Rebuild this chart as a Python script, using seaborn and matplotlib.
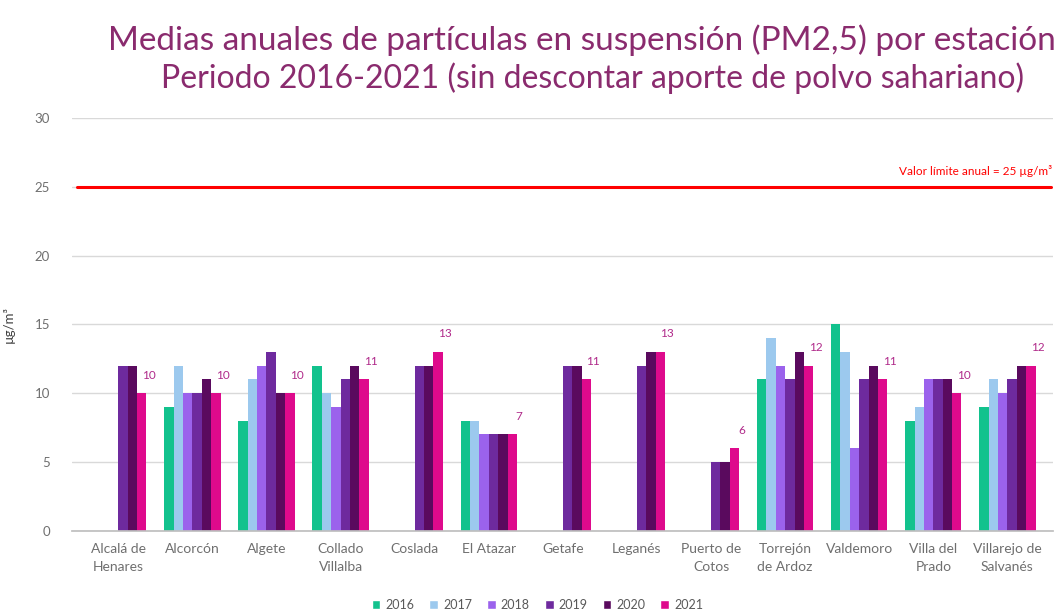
import numpy as np
import pandas as pd
import matplotlib
matplotlib.use("Agg")
import matplotlib.pyplot as plt
import seaborn as sns
from matplotlib.patches import Patch

stations = ["Alcalá de\nHenares", "Alcorcón", "Algete", "Collado\nVillalba", "Coslada",
            "El Atazar", "Getafe", "Leganés", "Puerto de\nCotos", "Torrejón\nde Ardoz",
            "Valdemoro", "Villa del\nPrado", "Villarejo de\nSalvanés"]
years = ["2016", "2017", "2018", "2019", "2020", "2021"]
nan = np.nan
v2016 = [nan, 9, 8, 12, nan, 8, nan, nan, nan, 11, 15, 8, 9]
v2017 = [nan, 12, 11, 10, nan, 8, nan, nan, nan, 14, 13, 9, 11]
v2018 = [nan, 10, 12, 9, nan, 7, nan, nan, nan, 12, 6, 11, 10]
v2019 = [12, 10, 13, 11, 12, 7, 12, 12, 5, 11, 11, 11, 11]
v2020 = [12, 11, 10, 12, 12, 7, 12, 13, 5, 13, 12, 11, 12]
v2021 = [10, 10, 10, 11, 13, 7, 11, 13, 6, 12, 11, 10, 12]
limit_value = 25
colors = ["#12C28D", "#9CC9EE", "#9B62EC", "#6E2A9E", "#5A0A5E", "#DE0A8C"]

series = [v2016, v2017, v2018, v2019, v2020, v2021]
rows = []
for y, vals in zip(years, series):
    for s, v in zip(stations, vals):
        rows.append({"Estación": s, "Año": y, "Valor": v})
df = pd.DataFrame(rows)

sns.set_theme(style="white")
plt.rcParams['font.family'] = ['Lato', 'DejaVu Sans']

fig = plt.figure(figsize=(10.64, 6.15), dpi=100)
ax = fig.add_axes([0.068, 0.137, 0.922, 0.671])

sns.barplot(data=df, x="Estación", y="Valor", hue="Año", order=stations,
            hue_order=years, palette=colors, width=0.76, dodge=True,
            saturation=1, errorbar=None, ax=ax, legend=False, zorder=2,
            linewidth=0)

ax.set_ylim(0, 30)
ax.set_xlim(-0.62, len(stations) - 0.38)
ax.set_yticks(range(0, 31, 5))
ax.yaxis.grid(True, color="#D9D9D9", linewidth=1)
ax.set_axisbelow(True)
for sp in ["top", "right", "left"]:
    ax.spines[sp].set_visible(False)
ax.spines["bottom"].set_color("#BFBFBF")
ax.tick_params(axis="both", length=0, colors="#6F6F6F", labelsize=10)
ax.tick_params(axis="y", pad=16, labelsize=9.5)
ax.tick_params(axis="x", pad=9)
for lbl in ax.get_xticklabels():
    lbl.set_linespacing(1.55)
ax.set_xlabel("")
ax.set_ylabel("µg/m³", color="#404040", fontsize=9.5, labelpad=14)

# limit line
ax.axhline(limit_value, color="#FF0000", linewidth=2.2, xmin=0.005, xmax=0.998, zorder=3)
ax.text(len(stations) - 0.40, limit_value + 0.75, "Valor límite anual = 25 µg/m³",
        color="#FF0000", fontsize=8.5, ha="right", va="bottom")

# labels on 2021 bars
bars2021 = ax.containers[5]
for rect, v in zip(bars2021, v2021):
    x = rect.get_x() + rect.get_width() / 2
    ax.annotate(f"{v:g}", (x, v), xytext=(5, 9), textcoords="offset points",
                ha="center", va="bottom", fontsize=8.5, color="#B02A8A")

handles = [Patch(facecolor=c, label=y) for c, y in zip(colors, years)]
leg = fig.legend(handles=handles, loc="center", bbox_to_anchor=(0.505, 0.016),
                 ncol=6, frameon=False, fontsize=9, handlelength=0.7, handleheight=0.7,
                 columnspacing=1.2, handletextpad=0.4)
for t in leg.get_texts():
    t.set_color("#595959")

title_color = "#8A2B6E"
fig.text(0.547, 0.935, "Medias anuales de partículas en suspensión (PM2,5) por estación",
         ha="center", va="center", fontsize=24, color=title_color)
fig.text(0.557, 0.873, "Periodo 2016-2021 (sin descontar aporte de polvo sahariano)",
         ha="center", va="center", fontsize=23, color=title_color)

fig.savefig("out.png", dpi=100, facecolor="white")
